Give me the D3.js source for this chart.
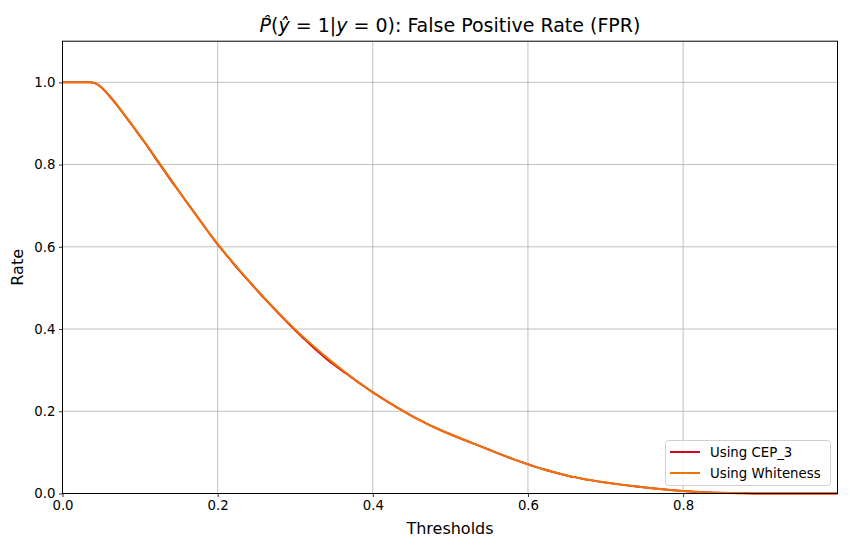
<!DOCTYPE html>
<html><head><meta charset="utf-8">
<script src="https://cdn.jsdelivr.net/npm/d3@7"></script>
<style>body{margin:0;background:#fff}svg{display:block;font-family:"DejaVu Sans",sans-serif}</style>
</head><body><svg id="c" width="850" height="548"></svg>
<script>
const thresholds = [0,0.02,0.035,0.04,0.045,0.05,0.06,0.07,0.08,0.09,0.10,0.11,0.12,0.13,0.14,0.15,0.16,0.17,0.18,0.19,0.20,0.21,0.22,0.23,0.24,0.25,0.26,0.27,0.28,0.29,0.30,0.31,0.32,0.33,0.34,0.35,0.36,0.37,0.38,0.39,0.40,0.41,0.42,0.43,0.44,0.45,0.46,0.47,0.48,0.49,0.50,0.51,0.52,0.53,0.54,0.55,0.56,0.57,0.58,0.59,0.60,0.61,0.62,0.63,0.64,0.65,0.66,0.67,0.68,0.69,0.70,0.72,0.74,0.76,0.78,0.80,0.82,0.84,0.86,0.88,0.90,0.95,0.999];
const whiteness = [1,1,1,0.999,0.995,0.988,0.969,0.946,0.921,0.896,0.870,0.844,0.817,0.790,0.763,0.736,0.7095,0.683,0.657,0.6315,0.607,0.5835,0.561,0.539,0.5175,0.4965,0.476,0.456,0.4365,0.4175,0.399,0.3815,0.3645,0.348,0.332,0.3165,0.3015,0.287,0.273,0.2595,0.2465,0.234,0.222,0.2105,0.1995,0.189,0.179,0.1695,0.1605,0.152,0.144,0.1363,0.1288,0.1214,0.1140,0.1065,0.0988,0.0914,0.0843,0.0775,0.0710,0.0648,0.0590,0.0536,0.0486,0.0440,0.0398,0.0360,0.0326,0.0295,0.0267,0.0216,0.0170,0.0128,0.0090,0.0058,0.0035,0.0020,0.0011,0.0005,0.0002,0,0];
const cep3 = [1,1,1,0.999,0.995,0.988,0.968,0.945,0.920,0.895,0.869,0.843,0.815,0.788,0.761,0.735,0.709,0.683,0.657,0.631,0.606,0.583,0.560,0.538,0.517,0.496,0.475,0.455,0.435,0.416,0.397,0.379,0.361,0.344,0.328,0.313,0.299,0.286,0.272,0.259,0.246,0.234,0.222,0.2105,0.1995,0.189,0.179,0.1695,0.1605,0.152,0.144,0.1363,0.1288,0.1214,0.1140,0.1065,0.0988,0.0914,0.0843,0.0775,0.0710,0.0648,0.0590,0.0536,0.0486,0.0440,0.0398,0.0360,0.0326,0.0295,0.0267,0.0216,0.0170,0.0128,0.0090,0.0058,0.0035,0.0020,0.0011,0.0005,0.0002,0,0];
const seriesNames = ["Using CEP_3","Using Whiteness"];
const seriesColors = ["#cc0a20","#f07308"];
const xTicks = [0,0.2,0.4,0.6,0.8];
const yTicks = [0,0.2,0.4,0.6,0.8,1.0];

const svg = d3.select("#c");
const L=62.5, R=837.5, T=41.2, B=493.5;
const x = d3.scaleLinear().domain([0,0.999]).range([L,R]);
const y = d3.scaleLinear().domain([0,1.1]).range([B,T]);

svg.append("g").selectAll("line").data(xTicks.slice(1)).join("line")
  .attr("x1",d=>x(d)).attr("x2",d=>x(d)).attr("y1",T).attr("y2",B)
  .attr("stroke","#b0b0b0").attr("stroke-width",0.8);
svg.append("g").selectAll("line").data(yTicks.slice(1)).join("line")
  .attr("x1",L).attr("x2",R).attr("y1",d=>y(d)).attr("y2",d=>y(d))
  .attr("stroke","#b0b0b0").attr("stroke-width",0.8);

const line = d3.line().x(d=>x(d[0])).y(d=>y(d[1])).curve(d3.curveMonotoneX);
[cep3, whiteness].forEach((vals,i)=>{
  svg.append("path").datum(thresholds.map((t,j)=>[t,vals[j]]))
    .attr("d",line).attr("fill","none").attr("stroke",seriesColors[i])
    .attr("stroke-width",2).attr("stroke-linejoin","round");
});

const xa = svg.append("g").attr("transform",`translate(0,${B})`)
  .call(d3.axisBottom(x).tickValues(xTicks).tickFormat(d3.format(".1f")).tickSize(3.5).tickPadding(3.5));
const ya = svg.append("g").attr("transform",`translate(${L},0)`)
  .call(d3.axisLeft(y).tickValues(yTicks).tickFormat(d3.format(".1f")).tickSize(3.5).tickPadding(3.5));
[xa,ya].forEach(g=>{g.select(".domain").remove();g.selectAll("text").attr("font-size",13.3).attr("fill","#000").attr("font-family","DejaVu Sans");g.selectAll("line").attr("stroke","#000").attr("stroke-width",0.8);});

svg.append("rect").attr("x",L).attr("y",T).attr("width",R-L).attr("height",B-T)
  .attr("fill","none").attr("stroke","#000").attr("stroke-width",1);

svg.append("text").attr("x",(L+R)/2).attr("y",534).attr("text-anchor","middle").attr("font-size",16).text("Thresholds");
svg.append("text").attr("transform",`translate(23,${(T+B)/2}) rotate(-90)`).attr("text-anchor","middle").attr("font-size",16).text("Rate");

const title = svg.append("text").attr("x",(L+R)/2).attr("y",32).attr("text-anchor","middle").attr("font-size",19);
title.append("tspan").attr("font-style","italic").text("P\u0302");
title.append("tspan").text("(");
title.append("tspan").attr("font-style","italic").text("y\u0302");
title.append("tspan").text(" = 1|");
title.append("tspan").attr("font-style","italic").text("y");
title.append("tspan").text(" = 0): False Positive Rate (FPR)");

const lg = svg.append("g");
lg.append("rect").attr("x",665.5).attr("y",440.5).attr("width",165).attr("height",45).attr("rx",3)
  .attr("fill","#fff").attr("fill-opacity",0.8).attr("stroke","#d0d0d0");
seriesNames.forEach((n,i)=>{
  const yy = 452+i*21;
  lg.append("line").attr("x1",670).attr("x2",700).attr("y1",yy).attr("y2",yy).attr("stroke",seriesColors[i]).attr("stroke-width",2);
  lg.append("text").attr("x",710).attr("y",yy+4.6).attr("font-size",13.3).text(n);
});
</script></body></html>
